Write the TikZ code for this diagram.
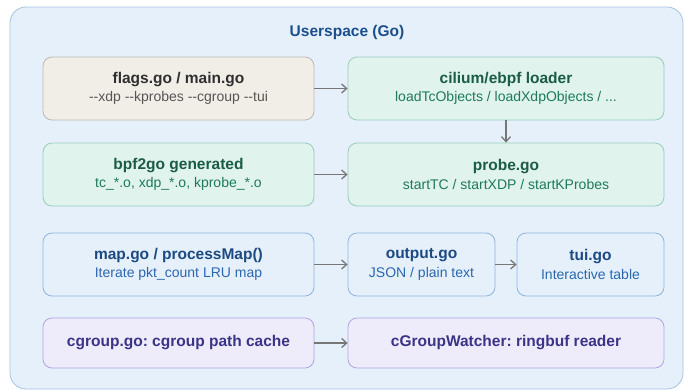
\documentclass[tikz,border=0pt]{standalone}
\usepackage{fontspec}
\setmainfont{Liberation Sans}
\usepackage{xcolor}
\usepackage{tikz}
\usetikzlibrary{arrows.meta,positioning}
\frenchspacing

\definecolor{usrfill}{HTML}{E6F0FB}
\definecolor{usrline}{HTML}{A3C3E3}
\definecolor{usrtext}{HTML}{1B4F8C}
\definecolor{flagfill}{HTML}{F1EEE8}
\definecolor{flagline}{HTML}{BDB8B0}
\definecolor{flagtext}{HTML}{2F2F2F}
\definecolor{flagsub}{HTML}{555555}
\definecolor{greenfill}{HTML}{E0F3EC}
\definecolor{greenline}{HTML}{98CDBA}
\definecolor{greentext}{HTML}{1A5C45}
\definecolor{greensub}{HTML}{1F7A5A}
\definecolor{bluefill}{HTML}{E6F0FB}
\definecolor{blueline}{HTML}{8DB4DF}
\definecolor{bluetext}{HTML}{1C4A82}
\definecolor{bluesub}{HTML}{2B67AE}
\definecolor{purplefill}{HTML}{EEEBFB}
\definecolor{purpleline}{HTML}{ABA6E2}
\definecolor{purpletext}{HTML}{3B3486}
\definecolor{arrowgray}{HTML}{777777}

\newcommand{\flagdash}{\mbox{-}\mbox{-}}
\newcommand{\boxtitle}{\fontsize{15.5}{18}\selectfont\bfseries}
\newcommand{\boxsub}{\fontsize{14}{16}\selectfont}

\begin{document}
\begin{tikzpicture}[x=1pt,y=-1pt,
    card/.style={draw, rounded corners=9pt, line width=0.8pt, align=center,
        minimum height=63pt, inner sep=0pt},
    wide/.style={card, minimum width=271pt},
    widest/.style={card, minimum width=316pt},
    small/.style={card, minimum width=147pt},
    flagcard/.style={fill=flagfill, draw=flagline, text=flagtext},
    greencard/.style={fill=greenfill, draw=greenline, text=greentext},
    bluecard/.style={fill=bluefill, draw=blueline, text=bluetext},
    purplecard/.style={fill=purplefill, draw=purpleline, text=purpletext, minimum height=50pt},
    flow/.style={-{Straight Barb[length=5pt,width=9pt]}, line width=1.3pt, draw=arrowgray}]

    \useasboundingbox (0,0) rectangle (684,389);
    \draw[fill=usrfill, draw=usrline, line width=0.8pt, rounded corners=16pt] (10,7) rectangle (683,389);
    \node[text=usrtext, font=\boxtitle] (usr) at (347,32) {Userspace (Go)};

    % row 1
    \node[wide, flagcard] (flags) at (178.5,88.5)
        {{\boxtitle flags.go / main.go}\\[4pt]{\boxsub\color{flagsub}\flagdash xdp \flagdash kprobes \flagdash cgroup \flagdash tui}};
    \node[widest, greencard] (loader) at (506,88.5)
        {{\boxtitle cilium/ebpf loader}\\[4pt]{\boxsub\color{greensub}loadTcObjects / loadXdpObjects / ...}};

    % row 2
    \node[wide, greencard] (gen) at (178.5,174.5)
        {{\boxtitle bpf2go generated}\\[4pt]{\boxsub\color{greensub}tc\_*.o, xdp\_*.o, kprobe\_*.o}};
    \node[widest, greencard] (probe) at (506,174.5)
        {{\boxtitle probe.go}\\[4pt]{\boxsub\color{greensub}startTC / startXDP / startKProbes}};

    % row 3
    \node[wide, bluecard] (map) at (178.5,264.5)
        {{\boxtitle map.go / processMap()}\\[4pt]{\boxsub\color{bluesub}Iterate pkt\_count LRU map}};
    \node[small, bluecard] (output) at (421.5,264.5)
        {{\boxtitle output.go}\\[4pt]{\boxsub\color{bluesub}JSON / plain text}};
    \node[small, bluecard] (tui) at (590.5,264.5)
        {{\boxtitle tui.go}\\[4pt]{\boxsub\color{bluesub}Interactive table}};

    % row 4
    \node[wide, purplecard] (cache) at (178.5,343)
        {\boxtitle cgroup.go: cgroup path cache};
    \node[widest, purplecard] (watcher) at (506,343)
        {\boxtitle cGroupWatcher: ringbuf reader};

    % arrows
    \draw[flow] (flags) -- (loader);
    \draw[flow] (loader) -- (probe);
    \draw[flow] (gen) -- (probe);
    \draw[flow] (map) -- (output);
    \draw[flow] (output) -- (tui);
    \draw[flow] (cache) -- (watcher);
\end{tikzpicture}
\end{document}
